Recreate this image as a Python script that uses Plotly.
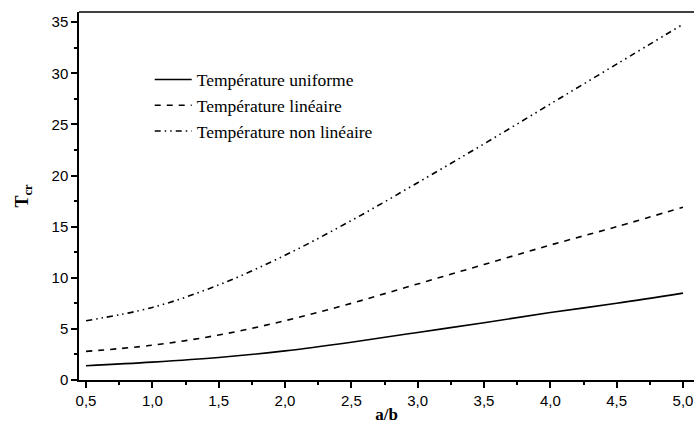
import plotly.graph_objects as go

ab = [0.5, 1.0, 1.5, 2.0, 2.5, 3.0, 3.5, 4.0, 4.5, 5.0]
t_uniforme = [1.4, 1.75, 2.2, 2.85, 3.7, 4.65, 5.6, 6.6, 7.5, 8.5]
t_lineaire = [2.8, 3.4, 4.4, 5.8, 7.5, 9.4, 11.3, 13.2, 15.0, 16.9]
t_non_lineaire = [5.8, 7.1, 9.3, 12.2, 15.6, 19.3, 23.1, 27.0, 30.9, 34.8]
names = ["Température uniforme", "Température linéaire", "Température non linéaire"]
x_ticks = [0.5, 1.0, 1.5, 2.0, 2.5, 3.0, 3.5, 4.0, 4.5, 5.0]
y_ticks = [0, 5, 10, 15, 20, 25, 30, 35]

fig = go.Figure()
fig.add_trace(go.Scatter(x=ab, y=t_uniforme, mode="lines", name=names[0],
                         line=dict(color="black", width=1.6, shape="spline")))
fig.add_trace(go.Scatter(x=ab, y=t_lineaire, mode="lines", name=names[1],
                         line=dict(color="black", width=1.6, dash="6px,6px", shape="spline")))
fig.add_trace(go.Scatter(x=ab, y=t_non_lineaire, mode="lines", name=names[2],
                         line=dict(color="black", width=1.6, dash="6px,4px,1.5px,4px,1.5px,4px", shape="spline")))

axis_common = dict(showgrid=False, zeroline=False, showline=True, linecolor="black", linewidth=1.5,
                   ticks="outside", ticklen=6, tickwidth=1.5, tickcolor="black",
                   tickfont=dict(family="Liberation Sans, Arial", size=15, color="black"))

fig.update_layout(
    width=694, height=425,
    margin=dict(l=79, r=0, t=12, b=45),
    plot_bgcolor="white", paper_bgcolor="white",
    separators=", ",
    showlegend=True,
    legend=dict(x=0.115, y=0.865, xanchor="left", yanchor="top", bgcolor="rgba(0,0,0,0)",
                font=dict(family="Liberation Serif, Times New Roman", size=17.5, color="black"),
                tracegroupgap=0, itemwidth=37),
    xaxis=dict(range=[0.447, 5.083], tickvals=x_ticks, tickformat=".1f",
               minor=dict(ticks="outside", ticklen=3, tickwidth=1.5, tickcolor="black", dtick=0.25, tick0=0.25),
               title=dict(text="<b>a/b</b>", font=dict(family="Liberation Serif, Times New Roman", size=17, color="black"), standoff=0),
               **axis_common),
    yaxis=dict(range=[0, 36], tickvals=y_ticks,
               minor=dict(ticks="outside", ticklen=3, tickwidth=1.5, tickcolor="black", dtick=2.5, tick0=0),
               title=dict(text="<b>T<sub>cr</sub></b>", font=dict(family="Liberation Serif, Times New Roman", size=18, color="black"), standoff=18),
               **axis_common),
    shapes=[dict(type="line", xref="paper", yref="paper", x0=0, x1=1, y0=1, y1=1,
                 line=dict(color="black", width=1.5))],
)

fig.write_html("out.html")
